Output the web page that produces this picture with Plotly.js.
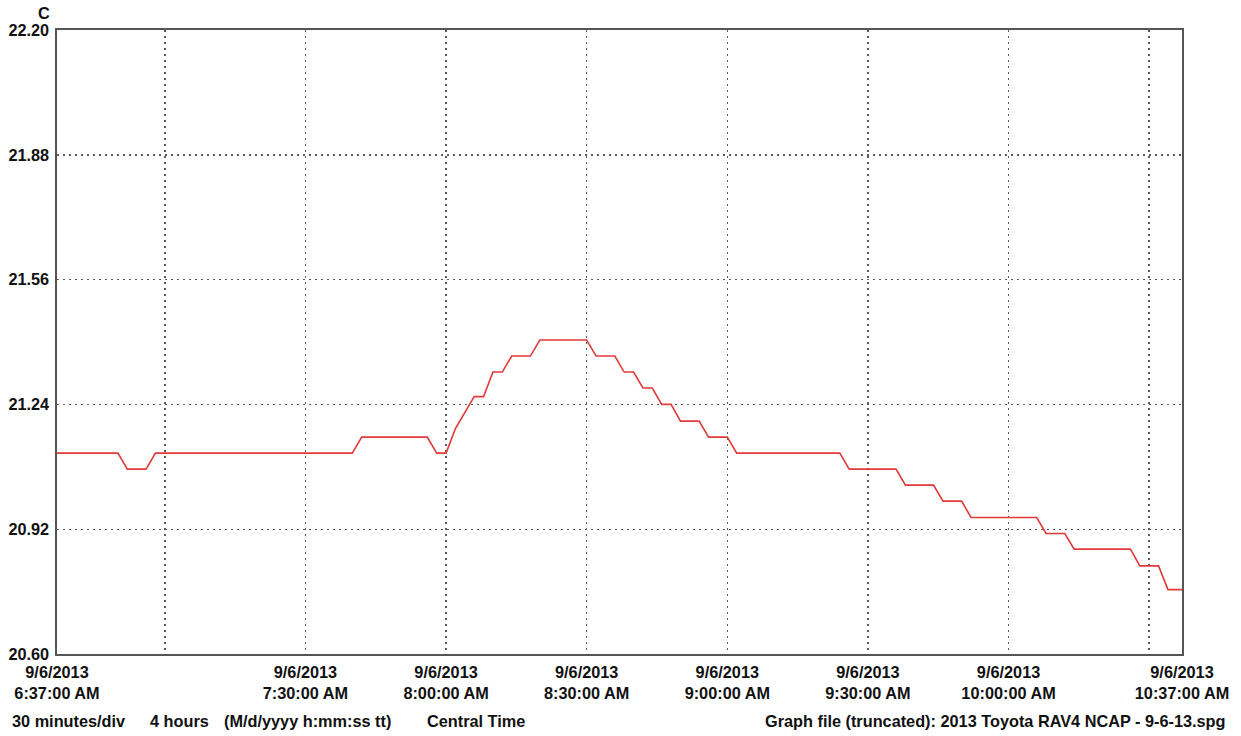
<!DOCTYPE html>
<html>
<head>
<meta charset="utf-8">
<script src="https://cdn.plot.ly/plotly-3.0.1.min.js"></script>
<style>
html,body{margin:0;padding:0;background:#fff;}
#chart{width:1241px;height:736px;}
</style>
</head>
<body>
<div id="chart"></div>
<script>
const day = '2013-09-06';
const times = ['06:37','06:50','06:52','06:56','06:58','07:40','07:42','07:56','07:58','08:00','08:02','08:06','08:08','08:10','08:12','08:14','08:18','08:20','08:30','08:32','08:36','08:38','08:40','08:42','08:44','08:46','08:48','08:50','08:54','08:56','09:00','09:02','09:24','09:26','09:36','09:38','09:44','09:46','09:50','09:52','10:06','10:08','10:12','10:14','10:26','10:28','10:32','10:34','10:37'];
const temps = [21.115,21.115,21.074,21.074,21.115,21.115,21.156,21.156,21.115,21.115,21.178,21.260,21.260,21.323,21.323,21.364,21.364,21.405,21.405,21.364,21.364,21.323,21.323,21.282,21.282,21.240,21.240,21.197,21.197,21.156,21.156,21.115,21.115,21.074,21.074,21.033,21.033,20.992,20.992,20.950,20.950,20.909,20.909,20.869,20.869,20.826,20.826,20.765,20.765];
const xTickTimes = ['06:37','07:30','08:00','08:30','09:00','09:30','10:00','10:37'];
const xTickClock = ['6:37:00 AM','7:30:00 AM','8:00:00 AM','8:30:00 AM','9:00:00 AM','9:30:00 AM','10:00:00 AM','10:37:00 AM'];
const xTickDate = '9/6/2013';
const xGridTimes = ['07:00','07:30','08:00','08:30','09:00','09:30','10:00','10:30'];
const yTicks = [20.60,20.92,21.24,21.56,21.88,22.20];
const yRange = [20.60,22.20];
const xRange = ['06:37','10:37'];
const unitLabel = 'C';
const footLeft = ['30 minutes/div','4 hours','(M/d/yyyy h:mm:ss tt)','Central Time'];
const footRight = 'Graph file (truncated): 2013 Toyota RAV4 NCAP - 9-6-13.spg';

const ts = t => day + ' ' + t + ':00';
const font = {family:'"Liberation Sans", Arial, sans-serif', size:16.3, color:'#111', weight:'bold'};
const gridCol = '#5a5a5a';

const W = 1241, L = 57, R = 59, T = 30, B = 82;
const pw = W - L - R, ph = 736 - T - B;
const px = x => (x - L) / pw;
const py = y => (736 - B - y) / ph;

const footX = [10, 148, 222, 425];
const annotations = footLeft.map((t,i) => ({
  text: t, xref:'paper', yref:'paper', x: px(footX[i]), y: py(721),
  xanchor:'left', yanchor:'middle', showarrow:false, font: font
}));
annotations.push({text: footRight, xref:'paper', yref:'paper', x: px(1228), y: py(721),
  xanchor:'right', yanchor:'middle', showarrow:false, font: font});
annotations.push({text: unitLabel, xref:'paper', yref:'paper', x: px(52), y: py(13),
  xanchor:'right', yanchor:'middle', showarrow:false, font: font});

const trace = {
  x: times.map(ts), y: temps, type:'scatter', mode:'lines',
  line:{color:'#e23a3a', width:1.6}, hoverinfo:'x+y'
};

const layout = {
  width: W, height: 736,
  margin:{l:L, r:R, t:T, b:B, pad:0},
  paper_bgcolor:'#fff', plot_bgcolor:'#fff',
  showlegend:false,
  font: font,
  xaxis:{
    type:'date', range: xRange.map(ts),
    tickmode:'array', tickvals: xTickTimes.map(ts),
    ticktext: xTickClock.map(c => xTickDate + '<br>' + c),
    ticks:'', showgrid:false, zeroline:false,
    showline:true, mirror:true, linecolor:'#555', linewidth:1.6,
    tickfont: font, ticklabelstandoff: 3,
    minor:{tickmode:'array', tickvals: xGridTimes.map(ts), showgrid:true,
      gridcolor:gridCol, gridwidth:1.4, griddash:'2px,4px', ticks:''}
  },
  yaxis:{
    range: yRange, tickmode:'array', tickvals: yTicks,
    tickformat:'.2f', ticks:'', showgrid:true, gridcolor:gridCol, gridwidth:1.4,
    griddash:'2px,4px', zeroline:false,
    showline:true, mirror:true, linecolor:'#555', linewidth:1.6,
    tickfont: font, ticklabelstandoff: 3
  },
  annotations: annotations
};

Plotly.newPlot('chart', [trace], layout, {displayModeBar:false, staticPlot:true});
</script>
</body>
</html>
